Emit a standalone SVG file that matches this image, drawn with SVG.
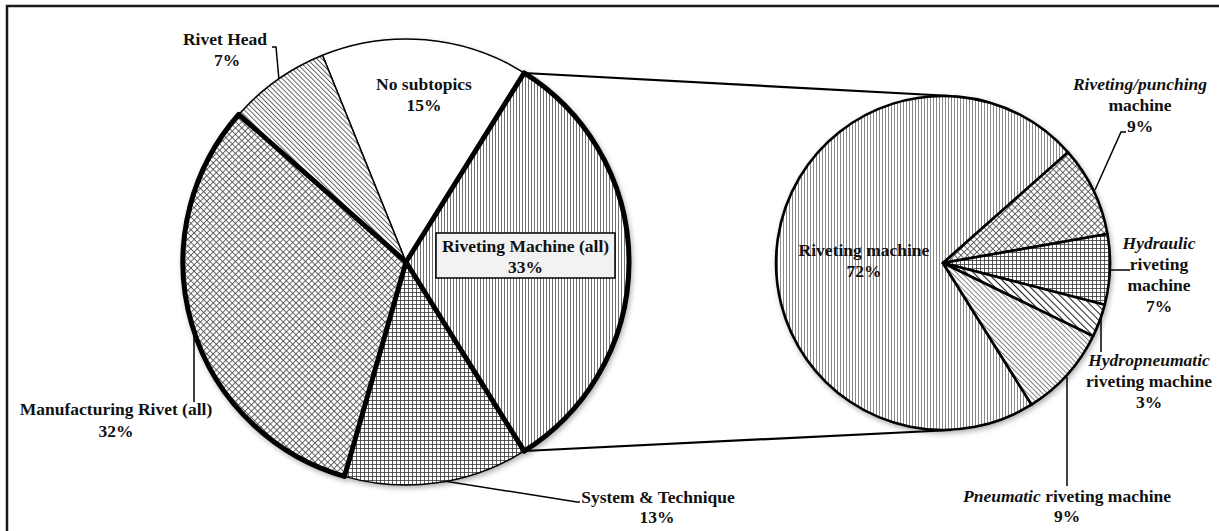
<svg xmlns="http://www.w3.org/2000/svg" width="1219" height="531" viewBox="0 0 1219 531">
<style>
text{font-family:"Liberation Serif","Times New Roman",serif;font-weight:bold;font-size:17.5px;fill:#111;text-anchor:middle}
.it{font-style:italic}
.thin{stroke:#000;stroke-width:1.5;stroke-linejoin:round}
.thick{stroke:#000;stroke-width:5;stroke-linejoin:round}
.rs{stroke:#000;stroke-width:2.6;stroke-linejoin:round}
.lead{fill:none;stroke:#000;stroke-width:1.5}
.conn{fill:none;stroke:#000;stroke-width:2.2}
</style>
<defs>
<filter id="sh" x="-10%" y="-10%" width="120%" height="120%"><feDropShadow dx="1.5" dy="2.5" stdDeviation="2.5" flood-color="#000" flood-opacity="0.3"/></filter>
<pattern id="pV" width="3" height="10" patternUnits="userSpaceOnUse"><rect width="3" height="10" fill="#fff"/><line x1="0.5" y1="0" x2="0.5" y2="10" stroke="#707070" stroke-width="1"/></pattern>
<pattern id="pVr" width="3" height="10" patternUnits="userSpaceOnUse"><rect width="3" height="10" fill="#fff"/><line x1="0.5" y1="0" x2="0.5" y2="10" stroke="#8a8a8a" stroke-width="1"/></pattern>
<pattern id="pGrid" width="4" height="4" patternUnits="userSpaceOnUse"><rect width="4" height="4" fill="#fff"/><path d="M0.5 0V4M0 0.5H4" stroke="#333" stroke-width="0.8"/></pattern>
<pattern id="pDiam" width="4.5" height="4.5" patternUnits="userSpaceOnUse" patternTransform="rotate(45)"><rect width="4.5" height="4.5" fill="#fff"/><path d="M0.5 0V4.5M0 0.5H4.5" stroke="#444" stroke-width="0.8"/></pattern>
<pattern id="pRH" width="3.5" height="10" patternUnits="userSpaceOnUse" patternTransform="rotate(-45)"><rect width="3.5" height="10" fill="#fff"/><line x1="0.5" y1="0" x2="0.5" y2="10" stroke="#555" stroke-width="0.9"/></pattern>
<pattern id="pHP" width="5" height="10" patternUnits="userSpaceOnUse" patternTransform="rotate(-45)"><rect width="5" height="10" fill="#fff"/><line x1="0.5" y1="0" x2="0.5" y2="10" stroke="#222" stroke-width="1.1"/></pattern>
<pattern id="pPN" width="3.5" height="10" patternUnits="userSpaceOnUse" patternTransform="rotate(-45)"><rect width="3.5" height="10" fill="#fff"/><line x1="0.5" y1="0" x2="0.5" y2="10" stroke="#777" stroke-width="0.9"/></pattern>
</defs>
<rect x="7" y="6" width="1240" height="560" fill="#fff" stroke="#1a1a1a" stroke-width="2.5"/>

<g id="connectors">
<line class="conn" x1="524" y1="73" x2="952" y2="96"/>
<line class="conn" x1="524" y1="451" x2="952" y2="430"/>
<polyline class="lead" points="272,47 276,47 279,80"/>
<line class="lead" x1="194" y1="325" x2="194" y2="402"/>
<polyline class="lead" points="444,481 577,502 580,502"/>
<polyline class="lead" points="1126,132 1121,132 1095,190"/>
<line class="lead" x1="1110" y1="270" x2="1130" y2="270"/>
<line class="lead" x1="1101" y1="318" x2="1101" y2="352"/>
<line class="lead" x1="1067" y1="377" x2="1067" y2="486"/>
</g>

<g id="left-pie" filter="url(#sh)">
<g id="no-subtopics"><path class="thin" fill="#fff" d="M406 262 L322.5 55.2 A223 223 0 0 1 524.2 72.9 Z"/></g>
<g id="rivet-head"><path class="thin" fill="url(#pRH)" d="M406 262 L238.7 114.5 A223 223 0 0 1 322.5 55.2 Z"/></g>
<g id="system-technique"><path class="thin" fill="url(#pGrid)" d="M406 262 L524.2 451.1 A223 223 0 0 1 344.5 476.4 Z"/></g>
<g id="manufacturing-rivet"><path class="thick" fill="url(#pDiam)" d="M406 262 L344.5 476.4 A223 223 0 0 1 238.7 114.5 Z"/></g>
<g id="riveting-machine-all"><path class="thick" fill="url(#pV)" d="M406 262 L524.2 72.9 A223 223 0 0 1 524.2 451.1 Z"/></g>
</g>
<g id="riveting-machine-all-label">
<rect x="436" y="233" width="179" height="45" fill="#f2f2f2" stroke="#000" stroke-width="1.5"/>
<text x="525.5" y="252">Riveting Machine (all)</text>
<text x="525.5" y="273">33%</text>
</g>

<g id="right-pie" filter="url(#sh)">
<g id="riveting-machine"><path class="rs" fill="url(#pVr)" d="M943 263 L1031.5 404.6 A167 167 0 1 1 1068.1 152.3 Z"/></g>
<g id="riveting-punching"><path class="rs" fill="url(#pDiam)" d="M943 263 L1068.1 152.3 A167 167 0 0 1 1107.5 234 Z"/></g>
<g id="hydraulic"><path class="rs" fill="url(#pGrid)" d="M943 263 L1107.5 234 A167 167 0 0 1 1104.7 304.8 Z"/></g>
<g id="hydropneumatic"><path class="rs" fill="url(#pHP)" d="M943 263 L1104.7 304.8 A167 167 0 0 1 1093.1 336.2 Z"/></g>
<g id="pneumatic"><path class="rs" fill="url(#pPN)" d="M943 263 L1093.1 336.2 A167 167 0 0 1 1031.5 404.6 Z"/></g>
</g>

<g id="labels">
<text x="225" y="45">Rivet Head</text>
<text x="227" y="66">7%</text>
<text x="424" y="90">No subtopics</text>
<text x="424" y="111">15%</text>
<text x="116" y="415">Manufacturing Rivet (all)</text>
<text x="116" y="437">32%</text>
<text x="658" y="503">System &amp; Technique</text>
<text x="657" y="523">13%</text>
<text x="864" y="256">Riveting machine</text>
<text x="864" y="277">72%</text>
<text x="1140" y="90" class="it">Riveting/punching</text>
<text x="1140" y="111">machine</text>
<text x="1140" y="132">9%</text>
<text x="1159" y="249" class="it">Hydraulic</text>
<text x="1159" y="270">riveting</text>
<text x="1159" y="291">machine</text>
<text x="1159" y="312">7%</text>
<text x="1149" y="366" class="it">Hydropneumatic</text>
<text x="1149" y="387">riveting machine</text>
<text x="1149" y="408">3%</text>
<text x="1067" y="502"><tspan class="it">Pneumatic</tspan> riveting machine</text>
<text x="1067" y="522">9%</text>
</g>
</svg>
